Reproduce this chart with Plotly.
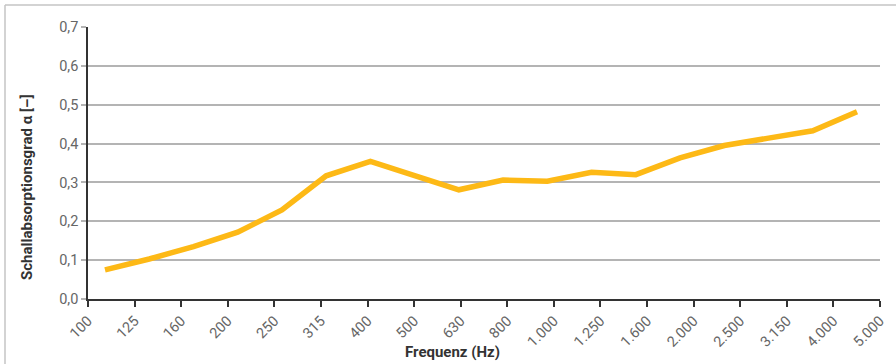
import plotly.graph_objects as go

freq_labels = ["100", "125", "160", "200", "250", "315", "400", "500", "630", "800",
               "1.000", "1.250", "1.600", "2.000", "2.500", "3.150", "4.000", "5.000"]
alpha = [0.075, 0.103, 0.135, 0.172, 0.229, 0.317, 0.354, 0.316, 0.281, 0.306,
         0.303, 0.326, 0.320, 0.363, 0.395, 0.414, 0.433, 0.482]
y_ticks = [0.0, 0.1, 0.2, 0.3, 0.4, 0.5, 0.6, 0.7]

W, H = 896, 364
L, R, T, B = 88, 16, 27, 65
pw, ph = W - L - R, H - T - B

def px_x(p):
    return (p - L) / pw

def px_y(p):
    return (H - B - p) / ph

fig = go.Figure()
fig.add_trace(go.Scatter(
    x=freq_labels, y=alpha, mode="lines", xaxis="x2",
    line=dict(color="#FDB916", width=5.5), hoverinfo="skip", showlegend=False,
))
fig.add_trace(go.Scatter(x=[0, len(freq_labels) - 1], y=[None, None], mode="lines",
                         showlegend=False, hoverinfo="skip"))

tick_font = dict(family="Roboto, sans-serif", size=14.5, color="#666666")
title_font = dict(family="Roboto, sans-serif", size=15, color="#333333")

fig.update_layout(
    width=W, height=H,
    margin=dict(l=L, r=R, t=T, b=B, autoexpand=False),
    paper_bgcolor="white", plot_bgcolor="white",
    separators=",.",
    xaxis=dict(
        range=[0, len(freq_labels) - 1], automargin=False,
        tickmode="array", tickvals=list(range(len(freq_labels))), ticktext=freq_labels,
        tickangle=-45, ticks="outside", ticklen=6, tickcolor="#333333", tickwidth=1.5,
        showline=True, linecolor="#333333", linewidth=1.5,
        showgrid=False, zeroline=False, tickfont=tick_font,
    ),
    xaxis2=dict(
        overlaying="x", type="category", range=[-0.384, 17.52], visible=False,
    ),
    yaxis=dict(
        range=[0, 0.7], tickmode="array", tickvals=y_ticks, tickformat=".1f",
        automargin=False,
        ticks="outside", ticklen=5, tickcolor="#b4b4b4", tickwidth=1.5,
        showline=True, linecolor="#333333", linewidth=1.5,
        showgrid=True, gridcolor="#b4b4b4", gridwidth=1.5, zeroline=False,
        tickfont=tick_font,
    ),
    annotations=[
        dict(text="<b>Frequenz (Hz)</b>", xref="paper", yref="paper",
             x=px_x(452), y=px_y(352), xanchor="center", yanchor="middle",
             showarrow=False, font=title_font),
        dict(text="<b>Schallabsorptionsgrad α [–]</b>", xref="paper", yref="paper",
             x=px_x(27), y=px_y(187), xanchor="center", yanchor="middle", textangle=-90,
             showarrow=False, font=title_font),
    ],
    shapes=[
        dict(type="line", xref="paper", yref="paper", x0=px_x(5), x1=px_x(896),
             y0=px_y(5), y1=px_y(5), line=dict(color="#c4c4c4", width=1.5)),
        dict(type="line", xref="paper", yref="paper", x0=px_x(5), x1=px_x(5),
             y0=px_y(5), y1=px_y(364), line=dict(color="#c4c4c4", width=1.5)),
    ],
)

fig.write_html("out.html", config={"displayModeBar": False},
               post_script="document.body.style.margin='0';")
